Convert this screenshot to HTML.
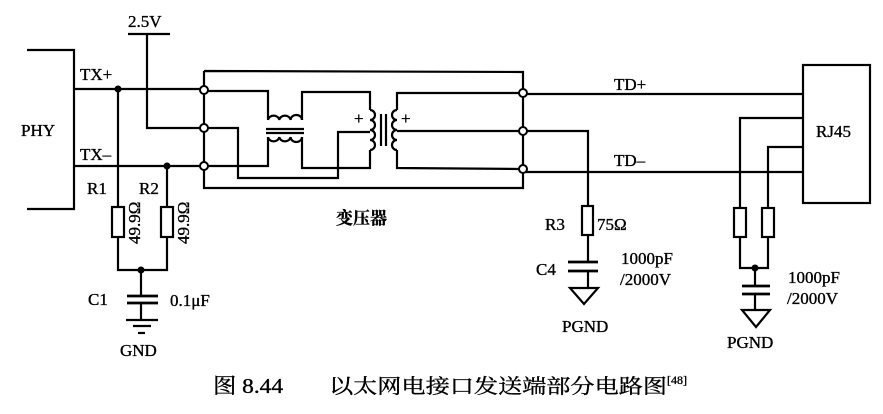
<!DOCTYPE html>
<html><head><meta charset="utf-8"><style>
html,body{margin:0;padding:0;background:#fff}
svg{display:block}
text{font-family:"Liberation Serif","Noto Serif CJK SC",serif;fill:#000;stroke:#000;stroke-width:0.35}
</style></head><body>
<svg width="883" height="414" viewBox="0 0 883 414" xmlns="http://www.w3.org/2000/svg">
<g stroke="#000" stroke-width="2.2" fill="none">
<polyline points="27,50 74,50 74,209 27,209"/>
<line x1="74" y1="89" x2="201" y2="89"/>
<line x1="74" y1="166" x2="201" y2="166"/>
<line x1="128" y1="34" x2="170" y2="34"/>
<polyline points="147,34 147,128 201,128"/>
<line x1="118" y1="89" x2="118" y2="207"/>
<rect x="112" y="207" width="12" height="30"/>
<polyline points="118,237 118,270 167,270 167,237"/>
<rect x="161" y="207" width="12" height="30"/>
<line x1="167" y1="166" x2="167" y2="207"/>
<line x1="141" y1="270" x2="141" y2="296"/>
<line x1="127" y1="296" x2="158" y2="296" stroke-width="2.7"/>
<line x1="127" y1="303" x2="158" y2="303" stroke-width="2.7"/>
<line x1="141" y1="303" x2="141" y2="320"/>
<line x1="126" y1="320" x2="158" y2="320"/>
<line x1="133" y1="326" x2="151" y2="326"/>
<line x1="138" y1="333" x2="145" y2="333"/>
<polyline points="204,71 523,72 523,188 204,188 204,71"/>
<polyline points="207,91 268,91 268,118"/>
<polyline points="207,166 268,166 268,145"/>
<polyline points="207,128 238,128 238,178 338,178 338,132 370,132"/>
<polyline points="302,118 302,92 370,92 370,110"/>
<polyline points="302,145 302,168 370,168 370,150"/>
<path d="M268,120 a5.7,5 0 0 1 11.3,0 a5.7,5 0 0 1 11.3,0 a5.7,5 0 0 1 11.4,0"/>
<path d="M268,137 a5.7,5 0 0 0 11.3,0 a5.7,5 0 0 0 11.3,0 a5.7,5 0 0 0 11.4,0"/>
<line x1="268" y1="120" x2="268" y2="118"/><line x1="302" y1="120" x2="302" y2="118"/>
<line x1="268" y1="137" x2="268" y2="145"/><line x1="302" y1="137" x2="302" y2="145"/>
<line x1="266" y1="129" x2="304" y2="129"/>
<line x1="266" y1="133" x2="304" y2="133"/>
<path d="M370,110 a5,5 0 0 1 0,10 a5,5 0 0 1 0,10 a5,5 0 0 1 0,10 a5,5 0 0 1 0,10"/>
<path d="M397,110 a5,5 0 0 0 0,10 a5,5 0 0 0 0,10 a5,5 0 0 0 0,10 a5,5 0 0 0 0,10"/>
<line x1="381" y1="114" x2="381" y2="146"/>
<line x1="386" y1="114" x2="386" y2="146"/>
<polyline points="397,110 397,93 520,93"/>
<line x1="397" y1="131" x2="520" y2="131"/>
<polyline points="397,150 397,168 520,169"/>
<line x1="526" y1="94" x2="803" y2="94"/>
<line x1="526" y1="172" x2="803" y2="172"/>
<polyline points="526,131 588,131 588,206"/>
<rect x="582" y="206" width="11" height="29"/>
<line x1="588" y1="235" x2="588" y2="262"/>
<line x1="568" y1="262" x2="598" y2="262" stroke-width="2.7"/>
<line x1="568" y1="271" x2="598" y2="271" stroke-width="2.7"/>
<line x1="588" y1="271" x2="588" y2="288"/>
<polygon points="570,288 598,288 584,304"/>
<rect x="803" y="65" width="67" height="138"/>
<polyline points="803,118 740,118 740,208"/>
<polyline points="803,147 768,147 768,208"/>
<rect x="734" y="208" width="12" height="29"/>
<rect x="762" y="208" width="12" height="29"/>
<polyline points="740,237 740,268 768,268 768,237"/>
<line x1="755" y1="268" x2="755" y2="286"/>
<line x1="742" y1="286" x2="770" y2="286" stroke-width="2.7"/>
<line x1="742" y1="294" x2="770" y2="294" stroke-width="2.7"/>
<line x1="755" y1="294" x2="755" y2="310"/>
<polygon points="742,310 770,310 756,327"/>
</g>
<g fill="#fff" stroke="#000" stroke-width="2">
<circle cx="204" cy="90" r="4"/><circle cx="204" cy="128" r="4"/><circle cx="204" cy="166" r="4"/>
<circle cx="523" cy="93" r="4"/><circle cx="523" cy="131" r="4"/><circle cx="523" cy="169" r="4"/>
</g>
<g fill="#000">
<circle cx="118" cy="89" r="3.5"/><circle cx="167" cy="166" r="3.5"/><circle cx="141" cy="270" r="3.5"/><circle cx="755" cy="268" r="3.5"/>
</g>
<g font-size="17">
<text x="128" y="27">2.5V</text>
<text x="80" y="80">TX+</text>
<text x="80" y="160">TX–</text>
<text x="21" y="136">PHY</text>
<text x="87" y="194">R1</text>
<text x="139" y="194">R2</text>
<text transform="translate(140,244) rotate(-90)">49.9Ω</text>
<text transform="translate(189,244) rotate(-90)">49.9Ω</text>
<text x="88" y="305">C1</text>
<text x="170" y="306">0.1μF</text>
<text x="120" y="356">GND</text>
<text x="354" y="124">+</text>
<text x="401" y="124">+</text>
<text x="614" y="90">TD+</text>
<text x="614" y="166">TD–</text>
<text x="816" y="137">RJ45</text>
<text x="545" y="230">R3</text>
<text x="597" y="230">75Ω</text>
<text x="536" y="275">C4</text>
<text x="621" y="264">1000pF</text>
<text x="620" y="285">/2000V</text>
<text x="562" y="332">PGND</text>
<text x="788" y="283">1000pF</text>
<text x="787" y="304">/2000V</text>
<text x="727" y="348">PGND</text>
</g>
<text x="336" y="224" font-size="17" font-weight="bold" font-family="'Noto Sans CJK SC',sans-serif">变压器</text>
<text x="213" y="393" font-size="21" textLength="70" lengthAdjust="spacingAndGlyphs" font-family="'Liberation Sans','Noto Sans CJK SC',sans-serif">图 8.44</text>
<text x="329" y="393" font-size="20" textLength="338" lengthAdjust="spacingAndGlyphs" font-family="'Noto Sans CJK SC',sans-serif">以太网电接口发送端部分电路图</text>
<text x="667" y="384" font-size="12" font-family="'Liberation Sans',sans-serif">[48]</text>
</svg>
</body></html>
